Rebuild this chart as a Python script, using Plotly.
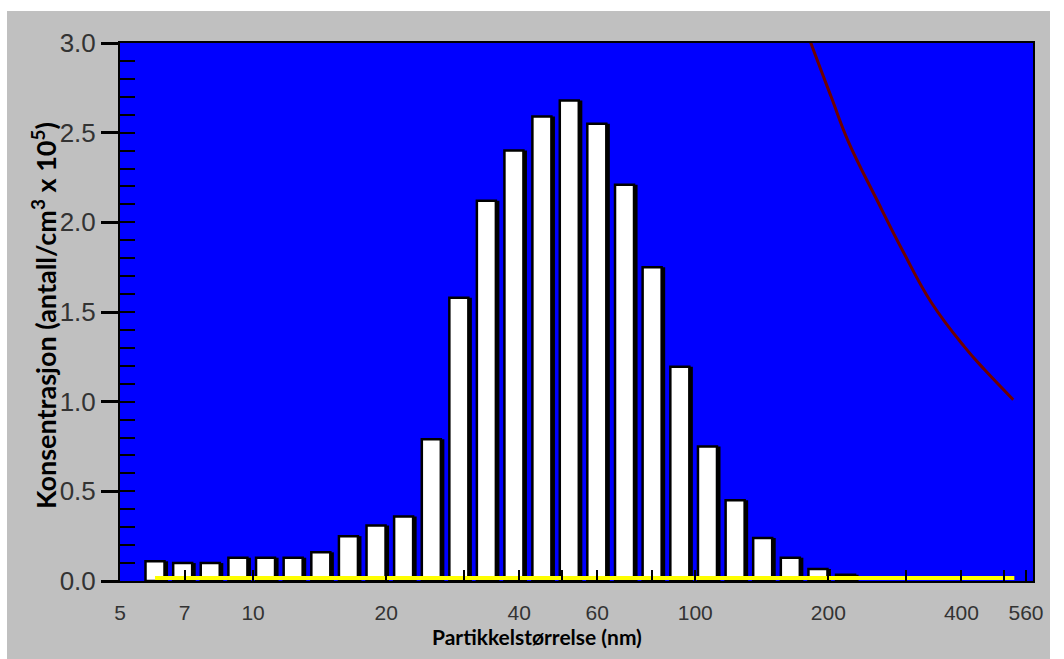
import numpy as np
import plotly.graph_objects as go

# ---- data ----
diam_nm = [6.0, 6.93, 8.0, 9.24, 10.67, 12.32, 14.23, 16.43, 18.97, 21.9, 25.3, 29.2, 33.7,
           38.9, 45.0, 51.9, 59.9, 69.2, 79.9, 92.3, 106.6, 123.1, 142.1, 164.1, 189.5, 218.8]
conc = [0.11, 0.10, 0.10, 0.13, 0.13, 0.13, 0.16, 0.25, 0.31, 0.36, 0.79, 1.58, 2.12,
        2.40, 2.59, 2.68, 2.55, 2.21, 1.75, 1.195, 0.75, 0.45, 0.24, 0.13, 0.067, 0.035]

curve_x = [178, 183, 203, 222, 257, 296, 342, 406, 451, 524]
curve_y = [3.08, 2.994, 2.70, 2.45, 2.13, 1.832, 1.553, 1.307, 1.179, 1.011]

base_x = [6.0, 527]
base_y = [0.017, 0.017]

x_tick_vals = [5, 7, 10, 20, 30, 40, 50, 60, 80, 100, 200, 300, 400, 500, 560]
x_tick_text = ["5", "7", "10", "20", "", "40", "", "60", "", "100", "200", "", "400", "", "560"]
y_tick_vals = [0.0, 0.5, 1.0, 1.5, 2.0, 2.5, 3.0]

x_title = "Partikkelstørrelse (nm)"
y_title = "Konsentrasjon (antall/cm<sup>3</sup> x 10<sup>5</sup>)"

W, H = 1064, 659
L, R, T, B = 120, 31, 43, 78
PW, PH = W - L - R, H - T - B


def px_x(p):
    return (p - L) / PW


def px_y(p):
    return (H - B - p) / PH


# bar geometry on the log axis (width given in decades, converted to data units)
BAR_DEC = 0.043
SHADOW_DEC = 0.008
d = np.array(diam_nm)
white_left = d * 10 ** (-BAR_DEC / 2)
white_right = d * 10 ** (BAR_DEC / 2)
shadow_left = d * 10 ** (-BAR_DEC / 2 + SHADOW_DEC)
shadow_right = d * 10 ** (BAR_DEC / 2 + SHADOW_DEC)

fig = go.Figure()

fig.add_trace(go.Bar(
    x=diam_nm, y=conc, width=shadow_right - shadow_left, offset=shadow_left - d,
    marker=dict(color="black", line=dict(width=0)), showlegend=False, hoverinfo="skip"))
fig.add_trace(go.Bar(
    x=diam_nm, y=conc, width=white_right - white_left, offset=white_left - d,
    marker=dict(color="white", line=dict(color="black", width=2.5)), showlegend=False))

fig.add_trace(go.Scatter(
    x=base_x, y=base_y, mode="lines", line=dict(color="#FFFF00", width=4),
    showlegend=False))

fig.add_trace(go.Scatter(
    x=curve_x, y=curve_y, mode="lines",
    line=dict(color="#6E0000", width=3, shape="spline", smoothing=1.2),
    showlegend=False, yaxis="y2"))

fig.update_layout(
    width=W, height=H,
    margin=dict(l=L, r=R, t=T, b=B),
    paper_bgcolor="#C0C0C0",
    plot_bgcolor="#0000FF",
    barmode="overlay",
    showlegend=False,
    xaxis=dict(
        type="log", range=[0.69897, 2.7640],
        tickmode="array", tickvals=x_tick_vals, ticktext=x_tick_text,
        ticks="inside", ticklen=11, tickwidth=2, tickcolor="black",
        ticklabelstandoff=12,
        showline=True, linecolor="black", linewidth=2, mirror=True,
        showgrid=False, zeroline=False,
        tickfont=dict(family="Liberation Sans", size=21, color="#333333"),
    ),
    yaxis=dict(
        range=[0, 3.0], tickmode="array", tickvals=y_tick_vals, tickformat=".1f",
        ticks="outside", ticklen=17, tickwidth=2.5, tickcolor="black",
        showline=True, linecolor="black", linewidth=2, mirror=True,
        showgrid=False, zeroline=False,
        tickfont=dict(family="Liberation Sans", size=26, color="#333333"),
    ),
    yaxis2=dict(
        range=[0, 3.0], overlaying="y", side="left",
        tickmode="linear", tick0=0, dtick=0.1,
        ticks="inside", ticklen=15, tickwidth=2, tickcolor="black",
        showticklabels=False, showgrid=False, zeroline=False, showline=False,
    ),
    shapes=[
        dict(type="rect", xref="paper", yref="paper", layer="below",
             x0=px_x(-5), x1=px_x(W + 5), y0=px_y(11), y1=px_y(-5),
             fillcolor="white", line=dict(width=0)),
        dict(type="rect", xref="paper", yref="paper", layer="below",
             x0=px_x(-5), x1=px_x(7), y0=px_y(H + 5), y1=px_y(-5),
             fillcolor="white", line=dict(width=0)),
        dict(type="rect", xref="paper", yref="paper", layer="below",
             x0=px_x(1050), x1=px_x(W + 5), y0=px_y(H + 5), y1=px_y(-5),
             fillcolor="white", line=dict(width=0)),
    ],
    annotations=[
        dict(text=x_title, xref="paper", yref="paper", x=px_x(537), y=px_y(636),
             xanchor="center", yanchor="middle", showarrow=False,
             font=dict(family="Lato", size=21, color="black", weight="bold")),
        dict(text=y_title, xref="paper", yref="paper", x=px_x(44), y=px_y(316),
             xanchor="center", yanchor="middle", showarrow=False, textangle=-90,
             font=dict(family="Lato", size=27, color="black", weight="bold")),
    ],
)

fig.write_html("out.html")
